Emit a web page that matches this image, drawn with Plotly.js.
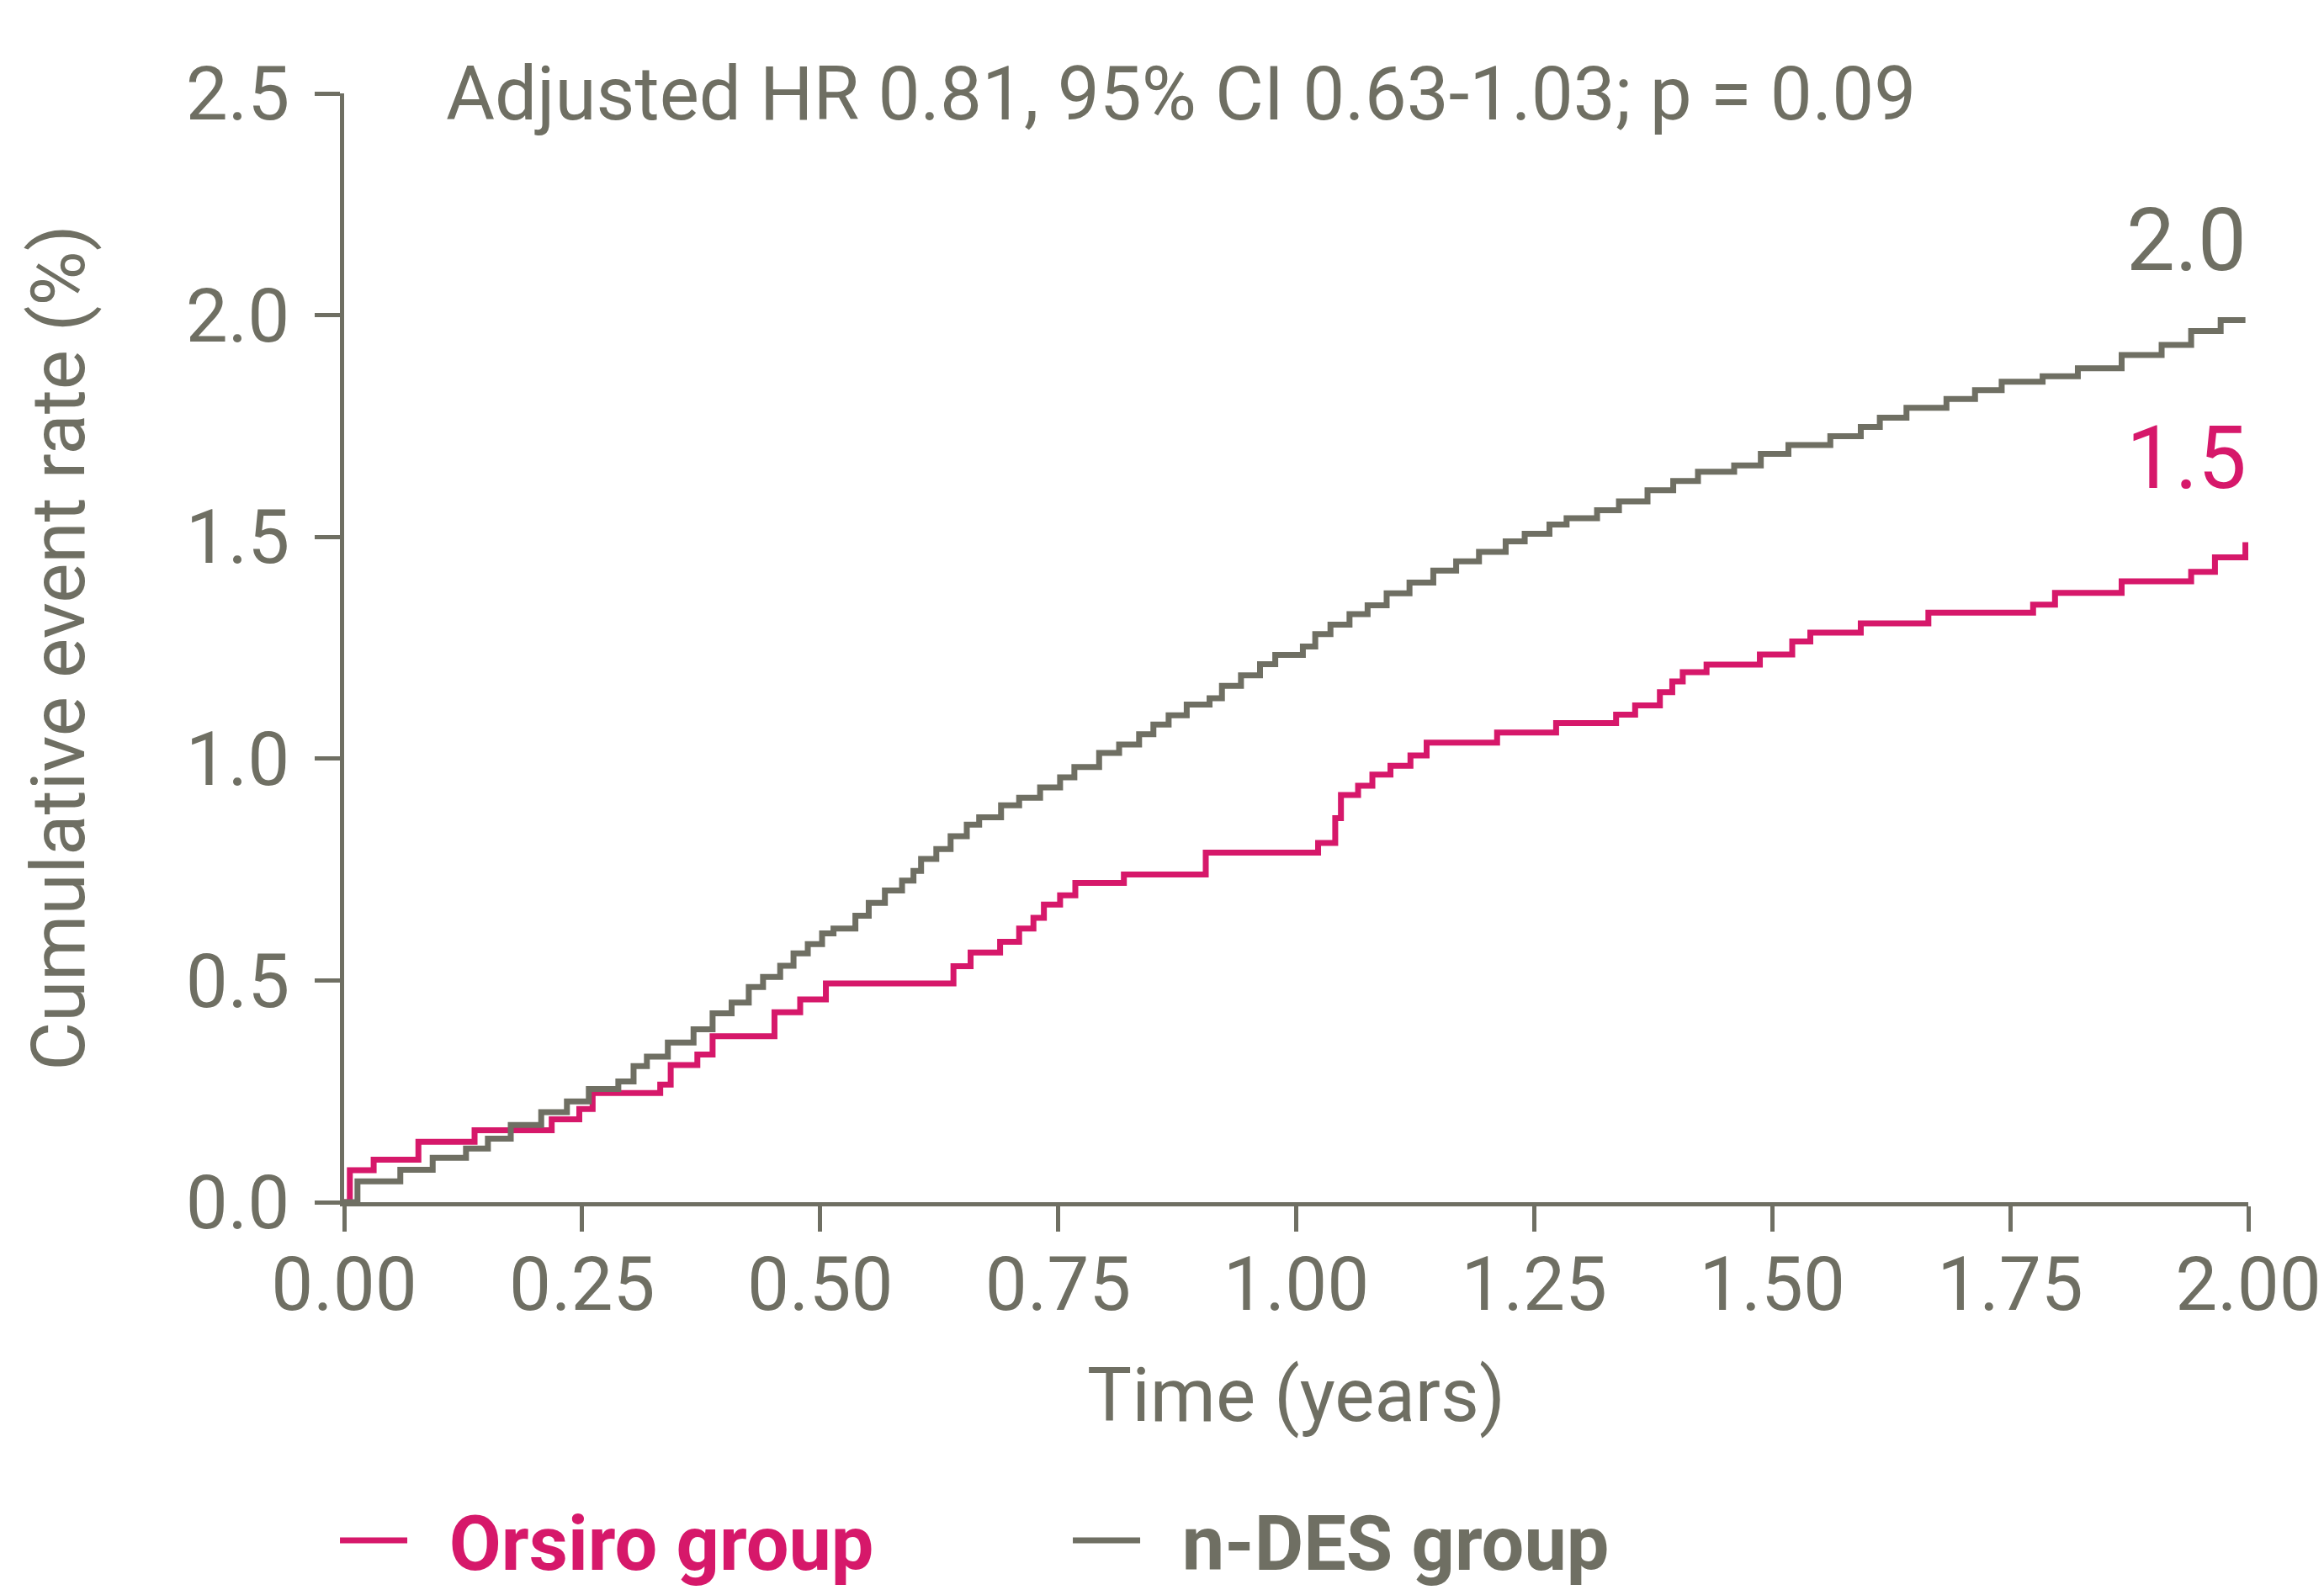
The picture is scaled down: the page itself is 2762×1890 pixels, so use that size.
<!DOCTYPE html>
<html>
<head>
<meta charset="utf-8">
<script src="https://cdn.plot.ly/plotly-3.0.1.min.js"></script>
<style>
html,body{margin:0;padding:0;background:#fff;}
#chart{width:2762px;height:1890px;}
</style>
</head>
<body>
<div id="chart"></div>
<script>
// ---- Data ----
const seriesNames = ["Orsiro group", "n-DES group"];

const orsiroTime = [0, 0.006, 0.031, 0.078, 0.137, 0.218, 0.247, 0.261, 0.332, 0.343, 0.371, 0.387, 0.452, 0.479, 0.506,
  0.640, 0.658, 0.689, 0.709, 0.724, 0.735, 0.752, 0.768, 0.819, 0.905, 1.023, 1.041, 1.047, 1.065, 1.080, 1.099, 1.120,
  1.137, 1.211, 1.273, 1.336, 1.356, 1.382, 1.395, 1.406, 1.431, 1.487, 1.521, 1.540, 1.593, 1.664, 1.774, 1.797, 1.867,
  1.940, 1.965, 1.997];
const orsiroRate = [0, 0.072, 0.096, 0.136, 0.162, 0.187, 0.210, 0.246, 0.265, 0.309, 0.333, 0.374, 0.428, 0.457, 0.493,
  0.532, 0.563, 0.587, 0.617, 0.641, 0.671, 0.692, 0.720, 0.739, 0.788, 0.810, 0.866, 0.918, 0.939, 0.964, 0.984, 1.007,
  1.036, 1.059, 1.080, 1.099, 1.120, 1.150, 1.174, 1.195, 1.212, 1.235, 1.264, 1.284, 1.305, 1.329, 1.347, 1.374, 1.400,
  1.421, 1.454, 1.488];

const ndesTime = [0, 0.014, 0.059, 0.093, 0.128, 0.151, 0.175, 0.207, 0.234, 0.257, 0.288, 0.304, 0.318, 0.340, 0.367,
  0.387, 0.407, 0.425, 0.440, 0.458, 0.472, 0.487, 0.502, 0.514, 0.537, 0.551, 0.568, 0.586, 0.598, 0.606, 0.622, 0.637,
  0.654, 0.667, 0.690, 0.709, 0.731, 0.752, 0.767, 0.793, 0.814, 0.835, 0.850, 0.866, 0.885, 0.909, 0.922, 0.942, 0.962,
  0.978, 1.007, 1.020, 1.036, 1.056, 1.075, 1.095, 1.119, 1.144, 1.168, 1.192, 1.220, 1.240, 1.266, 1.284, 1.316, 1.339,
  1.369, 1.396, 1.422, 1.460, 1.488, 1.517, 1.561, 1.593, 1.613, 1.641, 1.683, 1.713, 1.741, 1.784, 1.821, 1.867, 1.909,
  1.940, 1.971, 1.997];
const ndesRate = [0, 0.047, 0.073, 0.100, 0.121, 0.143, 0.174, 0.203, 0.227, 0.255, 0.272, 0.307, 0.328, 0.360, 0.390,
  0.426, 0.450, 0.485, 0.508, 0.533, 0.561, 0.582, 0.606, 0.617, 0.646, 0.675, 0.703, 0.725, 0.747, 0.774, 0.796, 0.825,
  0.851, 0.868, 0.895, 0.912, 0.935, 0.958, 0.981, 1.013, 1.032, 1.055, 1.077, 1.098, 1.122, 1.136, 1.164, 1.188, 1.213,
  1.234, 1.253, 1.281, 1.302, 1.326, 1.346, 1.373, 1.397, 1.424, 1.445, 1.466, 1.490, 1.507, 1.528, 1.542, 1.560, 1.580,
  1.605, 1.626, 1.647, 1.661, 1.687, 1.707, 1.727, 1.748, 1.769, 1.791, 1.811, 1.831, 1.850, 1.862, 1.880, 1.910, 1.933,
  1.964, 1.989, 1.989];

const xTickVals = [0, 0.25, 0.5, 0.75, 1.0, 1.25, 1.5, 1.75, 2.0];
const yTickVals = [0, 0.5, 1.0, 1.5, 2.0, 2.5];
const statText = "Adjusted HR 0.81, 95% CI 0.63-1.03; p = 0.09";
const xTitle = "Time (years)";
const yTitle = "Cumulative event rate (%)";

// ---- Styling ----
const PINK = "#d6186a";
const GREY = "#6f6f63";
const FONT = "Roboto, 'DejaVu Sans', sans-serif";
const FS = 89;

const traces = [
  {
    x: orsiroTime, y: orsiroRate, mode: "lines", line: {shape: "hv", color: PINK, width: 7},
    name: '<span style="color:' + PINK + '">&nbsp;&nbsp;' + seriesNames[0] + '</span>'
  },
  {
    x: ndesTime, y: ndesRate, mode: "lines", line: {shape: "hv", color: GREY, width: 7},
    name: '<span style="color:' + GREY + '">&nbsp;&nbsp;' + seriesNames[1] + '</span>'
  }
];

function lastVal(a){ return a[a.length - 1]; }

const layout = {
  width: 2762, height: 1890,
  margin: {l: 409, r: 90, t: 111, b: 461, autoexpand: false},
  paper_bgcolor: "#ffffff", plot_bgcolor: "#ffffff",
  font: {family: FONT, size: FS, color: GREY},
  showlegend: true,
  legend: {
    orientation: "h", x: -0.0044, xanchor: "left", y: -0.305, yanchor: "middle",
    font: {family: FONT, size: 90, weight: "bold", color: GREY},
    entrywidth: 776, entrywidthmode: "pixels", itemwidth: 80,
    bgcolor: "rgba(0,0,0,0)", traceorder: "normal"
  },
  xaxis: {
    range: [0, 2], tickvals: xTickVals, tickformat: ".2f",
    showgrid: false, zeroline: false, showline: true, linecolor: GREY, linewidth: 5,
    ticks: "outside", ticklen: 30, tickwidth: 5, tickcolor: GREY,
    tickfont: {family: FONT, size: FS, color: GREY}, ticklabelstandoff: -14,
    title: {text: xTitle, font: {family: FONT, size: FS, color: GREY}, standoff: 50},
    fixedrange: true
  },
  yaxis: {
    range: [0, 2.5], tickvals: yTickVals, tickformat: ".1f",
    showgrid: false, zeroline: false, showline: true, linecolor: GREY, linewidth: 5,
    ticks: "outside", ticklen: 30, tickwidth: 5, tickcolor: GREY,
    tickfont: {family: FONT, size: FS, color: GREY}, ticklabelstandoff: 12,
    title: {text: yTitle, font: {family: FONT, size: FS, color: GREY}, standoff: 92},
    fixedrange: true
  },
  annotations: [
    {
      xref: "paper", yref: "y", x: 0.0526, y: 2.5, xanchor: "left", yanchor: "middle",
      text: statText, showarrow: false, font: {family: FONT, size: FS, color: GREY}
    },
    {
      xref: "x", yref: "y", x: 2, y: lastVal(ndesRate), xanchor: "right", yanchor: "middle", yshift: 95,
      text: lastVal(ndesRate).toFixed(1), showarrow: false, font: {family: FONT, size: 103, color: GREY}
    },
    {
      xref: "x", yref: "y", x: 2, y: lastVal(orsiroRate), xanchor: "right", yanchor: "middle", yshift: 100,
      text: lastVal(orsiroRate).toFixed(1), showarrow: false, font: {family: FONT, size: 103, color: PINK}
    }
  ]
};

Plotly.newPlot("chart", traces, layout, {staticPlot: true, displayModeBar: false});
</script>
</body>
</html>
